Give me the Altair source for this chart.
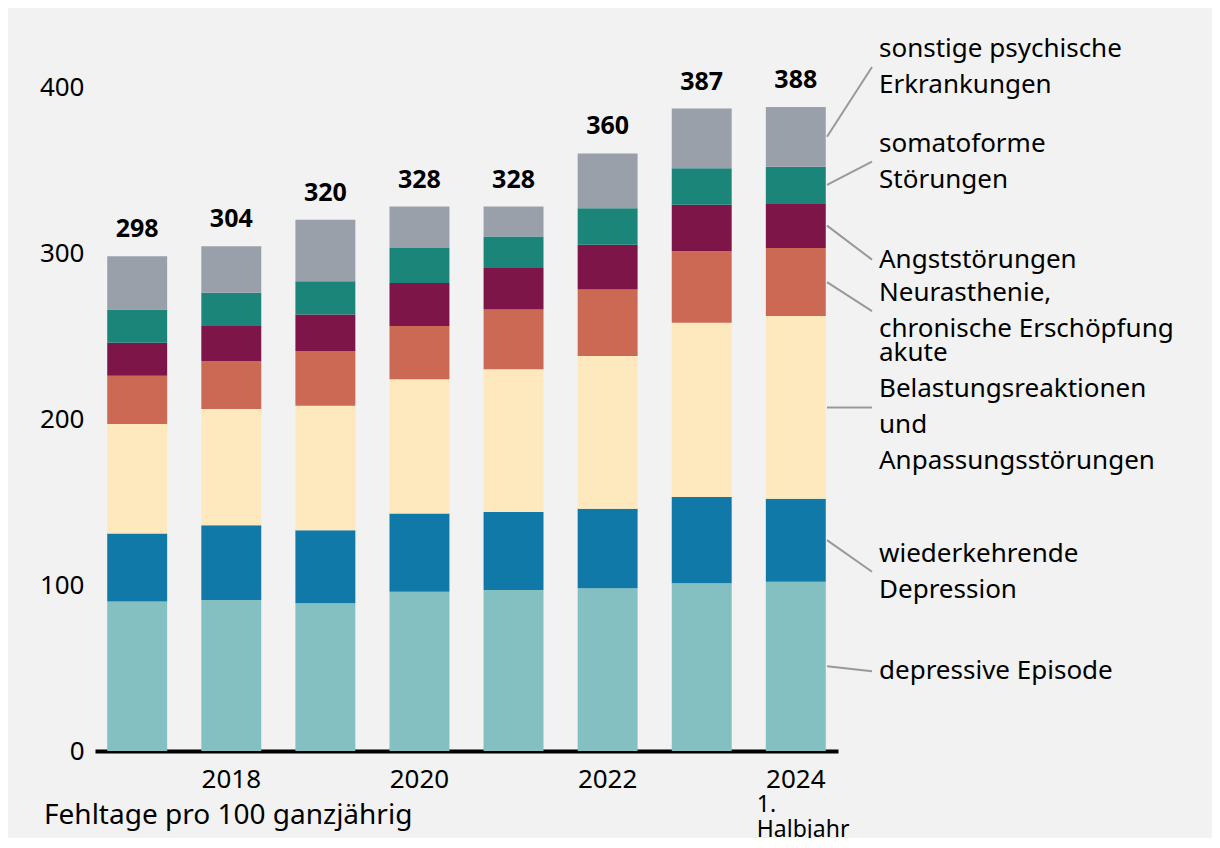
import altair as alt
import pandas as pd

years = ["2017", "2018", "2019", "2020", "2021", "2022", "2023", "2024"]
categories = [
    "depressive Episode",
    "wiederkehrende Depression",
    "akute Belastungsreaktionen und Anpassungsstörungen",
    "Neurasthenie, chronische Erschöpfung",
    "Angststörungen",
    "somatoforme Störungen",
    "sonstige psychische Erkrankungen",
]
label_texts = [
    "depressive Episode",
    "wiederkehrende\nDepression",
    "akute\nBelastungsreaktionen\nund\nAnpassungsstörungen",
    "Neurasthenie,\nchronische Erschöpfung",
    "Angststörungen",
    "somatoforme\nStörungen",
    "sonstige psychische\nErkrankungen",
]
label_anchor = [48, 108, 207, 265, 296, 355, 412]
colors = ["#84bfc1", "#1079a8", "#fde9bd", "#cc6954", "#7d1548", "#1b857a", "#99a0a9"]

depressive = [90, 91, 89, 96, 97, 98, 101, 102]
wiederkehrende = [41, 45, 44, 47, 47, 48, 52, 50]
akute = [66, 70, 75, 81, 86, 92, 105, 110]
neurasthenie = [29, 29, 33, 32, 36, 40, 43, 41]
angst = [20, 21, 22, 26, 25, 27, 28, 27]
somatoform = [20, 20, 20, 21, 19, 22, 22, 22]
sonstige = [32, 28, 37, 25, 18, 33, 36, 36]
totals = [298, 304, 320, 328, 328, 360, 387, 388]

series = [depressive, wiederkehrende, akute, neurasthenie, angst, somatoform, sonstige]

rows = []
for ci, (cat, vals) in enumerate(zip(categories, series)):
    for y, v in zip(years, vals):
        rows.append({"year": y, "cat": cat, "value": v, "order": ci})
df = pd.DataFrame(rows)

tot_df = pd.DataFrame({"year": years, "total": totals})

LINE_H = 36
last = [s[-1] for s in series]
mids = []
acc = 0
for v in last:
    mids.append(acc + v / 2)
    acc += v
lab_df = pd.DataFrame({"cat": categories, "text": label_texts, "mid": mids,
                       "anchor": label_anchor,
                       "nlines": [t.count("\n") + 1 for t in label_texts]})

FONT = "Noto Sans"

xscale = alt.Scale(domain=years, paddingInner=0.363, paddingOuter=0.13)
yscale = alt.Scale(domain=[0, 400], nice=False)

label_expr = "indexof(['2018','2020','2022','2024'], datum.value) >= 0 ? datum.value : ''"

bars = alt.Chart(df).mark_bar().encode(
    x=alt.X("year:N", scale=xscale, sort=years, title=None,
            axis=alt.Axis(labelExpr=label_expr, labelAngle=0, ticks=False, tickSize=0,
                          domainColor="black", domainWidth=4, labelPadding=15,
                          labelFontSize=26, labelFont=FONT, labelColor="black")),
    y=alt.Y("value:Q", stack="zero", scale=yscale, title=None,
            axis=alt.Axis(values=[0, 100, 200, 300, 400], grid=False, domain=False,
                          ticks=False, tickSize=0, labelPadding=11, labelFontSize=26,
                          labelFont=FONT, labelColor="black")),
    color=alt.Color("cat:N", scale=alt.Scale(domain=categories, range=colors), legend=None),
    order=alt.Order("order:Q", sort="ascending"),
)

total_text = alt.Chart(tot_df).mark_text(
    font=FONT, fontSize=25, fontWeight="bold", baseline="middle", dy=-27, color="black"
).encode(
    x=alt.X("year:N", scale=xscale, sort=years),
    y=alt.Y("total:Q", scale=yscale),
    text="total:Q",
)

connectors = alt.Chart(lab_df).mark_rule(color="#999999", strokeWidth=2).encode(
    x=alt.value(732),
    x2=alt.value(777),
    y=alt.Y("mid:Q", scale=yscale),
    y2=alt.Y2("anchor:Q"),
)

label_layers = []
for n in sorted(set(lab_df["nlines"])):
    label_layers.append(
        alt.Chart(lab_df).transform_filter(alt.datum.nlines == n).mark_text(
            font=FONT, fontSize=26, align="left", baseline="middle", lineBreak="\n",
            lineHeight=LINE_H, color="black", dy=-(n - 1) * LINE_H / 2
        ).encode(
            x=alt.value(784),
            y=alt.Y("anchor:Q", scale=yscale),
            text="text:N",
        )
    )

halbjahr = alt.Chart(pd.DataFrame({"year": ["2024"], "t": ["1.\nHalbjahr"]})).mark_text(
    font=FONT, fontSize=23, align="left", baseline="middle", lineBreak="\n",
    lineHeight=25, dx=-39, color="black"
).encode(
    x=alt.X("year:N", scale=xscale, sort=years),
    y=alt.value(718),
    text="t:N",
)

caption = alt.Chart(pd.DataFrame({"t": ["Fehltage pro 100 ganzjährig"]})).mark_text(
    font=FONT, fontSize=28, align="left", baseline="middle", color="black"
).encode(
    x=alt.value(-51),
    y=alt.value(729),
    text="t:N",
)

chart = alt.layer(bars, total_text, connectors, *label_layers, halbjahr, caption).properties(
    width=743,
    height=664,
    background="#f2f2f2",
    autosize=alt.AutoSizeParams(type="none"),
    padding={"left": 87, "top": 79, "right": 374, "bottom": 87},
    usermeta={"embedOptions": {"defaultStyle": "html, body { background: #f2f2f2 !important; }"}},
).configure_view(stroke=None)

chart.save("out.html", embed_options={"renderer": "svg", "actions": False})
